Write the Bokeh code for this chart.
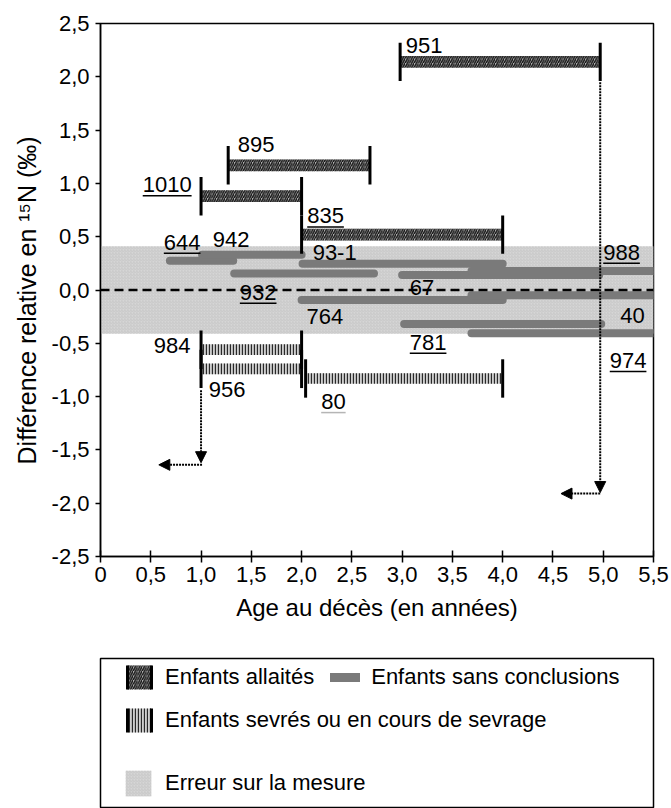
import numpy as np
from bokeh.plotting import figure
from bokeh.models import (Range1d, FixedTicker, Span, Arrow, NormalHead,
                          ColumnDataSource, Legend, LegendItem)
from bokeh.layouts import column
from bokeh.core.properties import value
from bokeh.embed import file_html
from bokeh.resources import INLINE

FONT = "Liberation Sans"
FS = "22px"
FS_TITLE = "24px"
FS_YTITLE = "25px"
FS_LEG = "22px"

# ---------------- data ----------------
x_ticks = [0, 0.5, 1.0, 1.5, 2.0, 2.5, 3.0, 3.5, 4.0, 4.5, 5.0, 5.5]
x_tick_labels = ["0", "0,5", "1,0", "1,5", "2,0", "2,5", "3,0", "3,5", "4,0", "4,5", "5,0", "5,5"]
y_ticks = [-2.5, -2.0, -1.5, -1.0, -0.5, 0.0, 0.5, 1.0, 1.5, 2.0, 2.5]
y_tick_labels = ["-2,5", "-2,0", "-1,5", "-1,0", "-0,5", "0,0", "0,5", "1,0", "1,5", "2,0", "2,5"]

# Enfants allaités
allaites_id = ["1010", "895", "835", "951"]
allaites_age_min = [1.0, 1.27, 2.0, 2.98]
allaites_age_max = [2.0, 2.68, 4.0, 4.97]
allaites_d15n = [0.88, 1.17, 0.52, 2.14]

# Enfants sevrés ou en cours de sevrage
sevres_id = ["984", "956", "80"]
sevres_age_min = [1.0, 1.0, 2.04]
sevres_age_max = [2.0, 2.0, 4.0]
sevres_d15n = [-0.56, -0.74, -0.83]

# Enfants sans conclusions
sc_age_min = [0.69, 1.01, 1.33, 2.01, 3.0, 3.69, 2.0, 3.69, 3.02, 3.69]
sc_age_max = [1.32, 2.0, 2.72, 4.0, 4.96, 5.5, 4.0, 5.5, 4.98, 5.5]
sc_d15n = [0.275, 0.33, 0.155, 0.246, 0.14, 0.178, -0.094, -0.05, -0.32, -0.405]

# Erreur sur la mesure
error_low = -0.41
error_high = 0.41

# Individual labels (left edge, baseline)
label_text = ["1010", "895", "835", "951", "984", "956", "80", "644", "942",
              "93-1", "932", "764", "67", "988", "40", "781", "974"]
label_x = [0.42, 1.366, 2.056, 3.035, 0.53, 1.077, 2.195, 0.63, 1.117,
           2.11, 1.386, 2.05, 3.076, 5.0, 5.17, 3.076, 5.065]
label_y = [0.913, 1.288, 0.62, 2.22, -0.6, -1.007, -1.12, 0.375, 0.40,
           0.28, -0.094, -0.328, -0.047, 0.28, -0.31, -0.563, -0.735]
label_underlined = [True, False, True, False, False, False, True, True, False,
                    False, True, False, False, True, False, True, True]
label_underline_color = ["black"] * 6 + ["#b5b5b5"] + ["black"] * 10

# Dotted arrows (age, d15N)
arrow_x0 = [1.0, 1.01, 4.97, 4.97]
arrow_y0 = [-0.94, -1.64, 1.95, -1.91]
arrow_x1 = [1.0, 0.58, 4.97, 4.58]
arrow_y1 = [-1.62, -1.64, -1.90, -1.91]

# ---------------- styles ----------------
ALL_STYLE = dict(fill_color="#b4b4b4", hatch_pattern="/", hatch_color="#111111",
                 hatch_scale=4.5, hatch_weight=1.4)
SEV_STYLE = dict(fill_color="#cfcfcf", hatch_pattern="|", hatch_color="#2a2a2a",
                 hatch_scale=3, hatch_weight=1.3)
ERR_STYLE = dict(fill_color="#d6d6d6", hatch_pattern="/", hatch_color="#c2c2c2",
                 hatch_scale=3, hatch_weight=0.7)
SC_COLOR = "#7a7a7a"
CAP_HALF = 0.18

# ---------------- main figure ----------------
p = figure(width=671, height=640, x_range=Range1d(x_ticks[0], x_ticks[-1]),
           y_range=Range1d(y_ticks[0], y_ticks[-1]), output_backend="svg",
           toolbar_location=None, title=None,
           min_border_left=100, min_border_right=18, min_border_top=23, min_border_bottom=84)
p.grid.visible = False
p.outline_line_color = "black"
p.outline_line_width = 1.5
p.background_fill_color = "white"
p.border_fill_color = "white"

# error band
p.quad(left=[x_ticks[0]], right=[x_ticks[-1]], bottom=[error_low], top=[error_high],
       line_color=None, **ERR_STYLE)

# sans conclusions
p.segment(x0=sc_age_min, y0=sc_d15n, x1=sc_age_max, y1=sc_d15n,
          line_color=SC_COLOR, line_width=8, line_cap="round")

# allaités
p.hbar(y=allaites_d15n, left=allaites_age_min, right=allaites_age_max, height=0.11,
       line_color=None, **ALL_STYLE)
# sevrés
p.hbar(y=sevres_d15n, left=sevres_age_min, right=sevres_age_max, height=0.10,
       line_color=None, **SEV_STYLE)

# end caps
cap_x = np.array(allaites_age_min + allaites_age_max + sevres_age_min + sevres_age_max)
cap_yc = np.array(allaites_d15n * 2 + sevres_d15n * 2)
p.segment(x0=cap_x, y0=cap_yc - CAP_HALF, x1=cap_x, y1=cap_yc + CAP_HALF,
          line_color="black", line_width=3)

# arrows
asrc = ColumnDataSource(dict(x0=arrow_x0, y0=arrow_y0, x1=arrow_x1, y1=arrow_y1))
p.add_layout(Arrow(x_start="x0", y_start="y0", x_end="x1", y_end="y1", source=asrc,
                   line_color="black", line_width=2, line_dash="2 1",
                   end=NormalHead(size=11, fill_color="black", line_color="black", line_width=1)))

# labels
p.text(x=label_x, y=label_y, text=label_text, text_font=value(FONT),
       text_font_size=FS, text_baseline="alphabetic", text_align="left",
       text_color="black", y_offset=-8)
ul_idx = [i for i, u in enumerate(label_underlined) if u]
ul_x0 = [label_x[i] for i in ul_idx]
ul_x1 = [label_x[i] + 0.1215 * len(label_text[i]) for i in ul_idx]
ul_y = [label_y[i] - 0.03 for i in ul_idx]
ul_c = [label_underline_color[i] for i in ul_idx]
p.segment(x0=ul_x0, y0=ul_y, x1=ul_x1, y1=ul_y, line_color=ul_c, line_width=1.5)

# zero line
p.add_layout(Span(location=0, dimension="width", line_color="black",
                  line_width=2.5, line_dash="9 5"))

# axes
p.xaxis.ticker = FixedTicker(ticks=x_ticks)
p.xaxis.major_label_overrides = {t: l for t, l in zip(x_ticks, x_tick_labels)}
p.yaxis.ticker = FixedTicker(ticks=y_ticks)
p.yaxis.major_label_overrides = {t: l for t, l in zip(y_ticks, y_tick_labels)}
for ax in (p.xaxis[0], p.yaxis[0]):
    ax.axis_line_width = 1.5
    ax.major_tick_line_width = 1.5
    ax.minor_tick_line_color = None
    ax.major_label_text_font = FONT
    ax.major_label_text_font_size = FS
    ax.major_label_text_color = "black"
    ax.axis_label_text_font = FONT
    ax.axis_label_text_font_size = FS_TITLE
    ax.axis_label_text_font_style = "normal"
    ax.axis_label_text_color = "black"
p.xaxis.major_tick_in = 6
p.xaxis.major_tick_out = 6
p.xaxis.major_label_standoff = 4
p.xaxis.axis_label = "Age au décès (en années)"
p.xaxis.axis_label_standoff = 9
p.yaxis.major_tick_in = 0
p.yaxis.major_tick_out = 5
p.yaxis.major_label_standoff = 6
p.yaxis.axis_label = "Différence relative en ¹⁵N (‰)" + "\u00a0" * 3
p.yaxis.axis_label_text_font_size = FS_YTITLE
p.yaxis.axis_label_standoff = 8

# ---------------- legend figure ----------------
# legend-only renderers: same data, drawn outside this panel's visible ranges
p2 = figure(width=671, height=168, x_range=Range1d(100, 101), y_range=Range1d(100, 101),
            x_axis_type=None, y_axis_type=None, output_backend="svg",
            toolbar_location=None, title=None,
            min_border_left=97, min_border_right=16, min_border_top=18, min_border_bottom=0)
p2.outline_line_color = "black"
p2.outline_line_width = 1.5
p2.background_fill_color = "white"
p2.border_fill_color = "white"

r_all = p2.hbar(y=allaites_d15n, left=allaites_age_min, right=allaites_age_max, height=0.11,
                line_color="black", line_width=3, line_dash="24 24", line_dash_offset=24,
                **ALL_STYLE)
r_sc = p2.segment(x0=sc_age_min, y0=sc_d15n, x1=sc_age_max, y1=sc_d15n,
                  line_color=SC_COLOR, line_width=9, line_cap="round")
r_sev = p2.hbar(y=sevres_d15n, left=sevres_age_min, right=sevres_age_max, height=0.10,
                line_color="black", line_width=3, line_dash="24 24", line_dash_offset=24,
                **SEV_STYLE)
r_err = p2.quad(left=[x_ticks[0]], right=[x_ticks[-1]], bottom=[error_low], top=[error_high],
                line_color=None, **ERR_STYLE)

common = dict(glyph_width=30, glyph_height=30, label_standoff=11, spacing=16, padding=0,
              margin=0, border_line_color=None, background_fill_alpha=0,
              label_text_font=FONT, label_text_font_size=FS_LEG, label_text_color="black")
leg1 = Legend(items=[LegendItem(label="Enfants allaités", renderers=[r_all]),
                     LegendItem(label="Enfants sans conclusions", renderers=[r_sc])],
              orientation="horizontal", location=(24, 116), **common)
leg2 = Legend(items=[LegendItem(label="Enfants sevrés ou en cours de sevrage", renderers=[r_sev])],
              location=(24, 73), **common)
common3 = dict(common)
common3.update(glyph_width=32, glyph_height=32)
leg3 = Legend(items=[LegendItem(label="Erreur sur la mesure", renderers=[r_err])],
              location=(22, 9), **common3)
for lg in (leg1, leg2, leg3):
    p2.add_layout(lg)

layout = column(p, p2, spacing=0)
open("out.html", "w").write(file_html(layout, INLINE))
